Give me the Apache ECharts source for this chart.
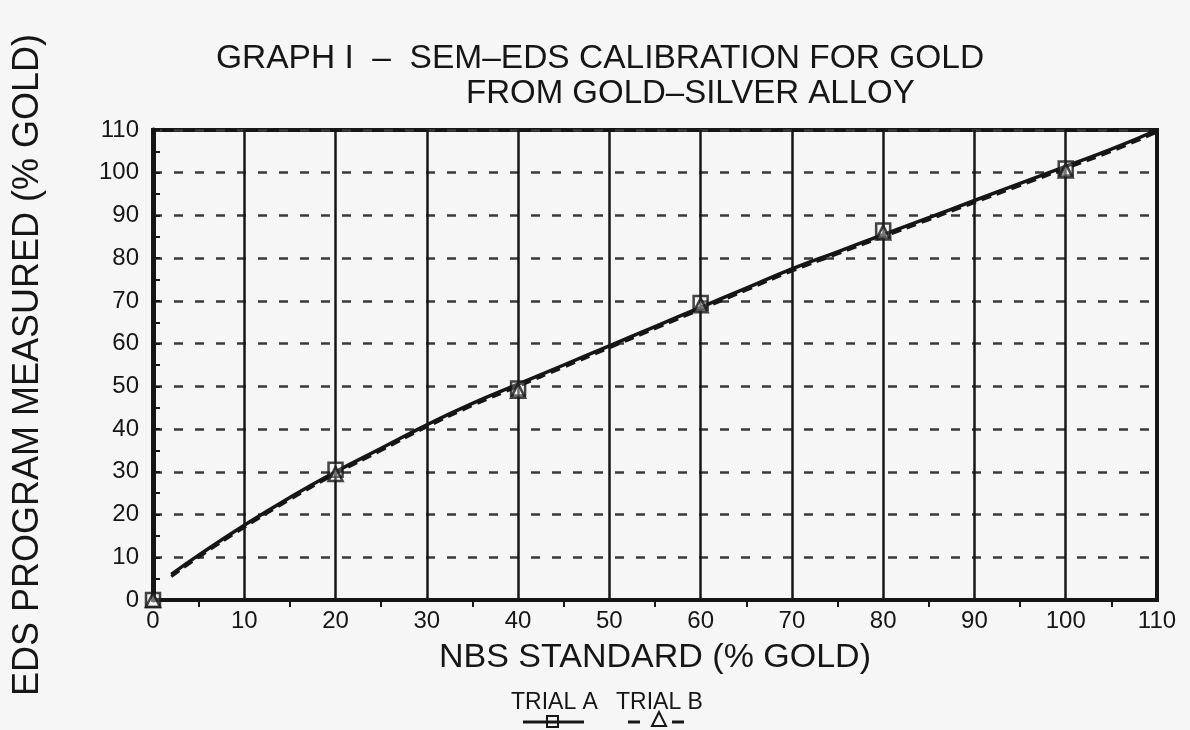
<!DOCTYPE html>
<html><head><meta charset="utf-8">
<script src="https://cdn.jsdelivr.net/npm/echarts@6/dist/echarts.min.js"></script>
<style>html,body{margin:0;padding:0;background:#f5f6f5}#c{width:1190px;height:730px}</style>
</head><body><div id="c"></div>
<script>
const titleLines = ["GRAPH I  –  SEM–EDS CALIBRATION FOR GOLD", "FROM GOLD–SILVER ALLOY"];
const xTitle = "NBS STANDARD (% GOLD)";
const yTitle = "EDS PROGRAM MEASURED (% GOLD)";
const seriesNames = ["TRIAL A", "TRIAL B"];
// measured points
const stdX = [0, 20, 40, 60, 80, 100];
const trialA = [0, 30.5, 49.5, 69.5, 86.5, 101];
const trialB = [0, 29.5, 49, 69, 86, 100.5];
// fitted curves
const fitX  = [2, 5, 10, 15, 20, 25, 30, 35, 40, 45, 50, 55, 60, 65, 70, 75, 80, 85, 90, 95, 100, 105, 110];
const fitA  = [6, 10.5, 17.5, 24, 30, 35.5, 41, 46, 50.5, 55, 59.5, 64, 68.5, 73, 77.5, 81.5, 85.5, 89.5, 93.5, 97.5, 101.5, 105.5, 110];
const fitB  = [5.5, 10, 17, 23.5, 29.5, 35, 40.5, 45.5, 50, 54.5, 59, 63.5, 68, 72.5, 77, 81, 85, 89, 93, 97, 101, 105, 109.5];

const ink = '#161616';
const font = 'Liberation Sans';
const chart = echarts.init(document.getElementById('c'));
const pair = (xs, ys) => xs.map((x, i) => [x, ys[i]]);
chart.setOption({
  backgroundColor: '#f5f6f5',
  animation: false,
  title: [
    {text: titleLines[0], left: 211, top: 37, textStyle: {fontFamily: font, fontWeight: 'normal', fontSize: 33.5, color: ink}},
    {text: titleLines[1], left: 461, top: 72, textStyle: {fontFamily: font, fontWeight: 'normal', fontSize: 33, color: ink}}
  ],
  grid: {left: 153, right: 33, top: 130, bottom: 130, show: true, borderColor: ink, borderWidth: 4, backgroundColor: 'transparent'},
  xAxis: {
    type: 'value', min: 0, max: 110, interval: 10,
    name: xTitle, nameLocation: 'middle', nameGap: 41,
    nameTextStyle: {fontFamily: font, fontSize: 34, color: ink},
    axisLine: {show: true, lineStyle: {color: ink, width: 4}},
    axisTick: {show: false},
    minorTick: {show: true, splitNumber: 2, length: 7, lineStyle: {color: ink, width: 2}},
    axisLabel: {fontFamily: font, fontSize: 24, color: ink, margin: 9},
    splitLine: {show: true, lineStyle: {color: ink, width: 2.5, type: 'solid'}}
  },
  yAxis: {
    type: 'value', min: 0, max: 110, interval: 10,
    name: yTitle, nameLocation: 'middle', nameGap: 107, nameRotate: 90,
    nameTextStyle: {fontFamily: font, fontSize: 36, color: ink},
    axisLine: {show: true, lineStyle: {color: ink, width: 5}},
    axisTick: {show: true, inside: true, length: 7, lineStyle: {color: ink, width: 2}},
    minorTick: {show: true, splitNumber: 2, length: 7, lineStyle: {color: ink, width: 2}},
    axisLabel: {fontFamily: font, fontSize: 24, color: ink, margin: 14},
    splitLine: {show: true, lineStyle: {color: '#3a3a3a', width: 2.5, type: [9, 12]}}
  },
  series: [
    {name: seriesNames[0] + ' fit', type: 'line', smooth: true, showSymbol: false, data: pair(fitX, fitA),
     lineStyle: {color: ink, width: 3.5}, z: 3},
    {name: seriesNames[1] + ' fit', type: 'line', smooth: true, showSymbol: false, data: pair(fitX, fitB),
     lineStyle: {color: ink, width: 3, type: [10, 6]}, z: 3},
    {name: seriesNames[0], type: 'scatter', symbol: 'rect', symbolSize: 14, data: pair(stdX, trialA),
     itemStyle: {color: 'rgba(245,246,245,0.3)', borderColor: ink, borderWidth: 2.5}, z: 4, clip: false},
    {name: seriesNames[1], type: 'scatter', symbol: 'triangle', symbolSize: 14, data: pair(stdX, trialB),
     itemStyle: {color: 'rgba(245,246,245,0.3)', borderColor: ink, borderWidth: 2.5}, z: 4, clip: false}
  ],
  graphic: [
    {type: 'text', left: 511, top: 691, style: {text: seriesNames[0], font: '23px "Liberation Sans"', fill: ink}},
    {type: 'text', left: 616, top: 691, style: {text: seriesNames[1], font: '23px "Liberation Sans"', fill: ink}},
    {type: 'line', shape: {x1: 523, y1: 722, x2: 584, y2: 722}, style: {stroke: ink, lineWidth: 3}},
    {type: 'rect', shape: {x: 547, y: 716, width: 11, height: 11}, style: {fill: 'none', stroke: ink, lineWidth: 2}},
    {type: 'line', shape: {x1: 628, y1: 722, x2: 684, y2: 722}, style: {stroke: ink, lineWidth: 3, lineDash: [12, 32]}},
    {type: 'polygon', shape: {points: [[659, 712], [652, 726], [666, 726]]}, style: {fill: 'none', stroke: ink, lineWidth: 2}}
  ]
});
</script></body></html>
